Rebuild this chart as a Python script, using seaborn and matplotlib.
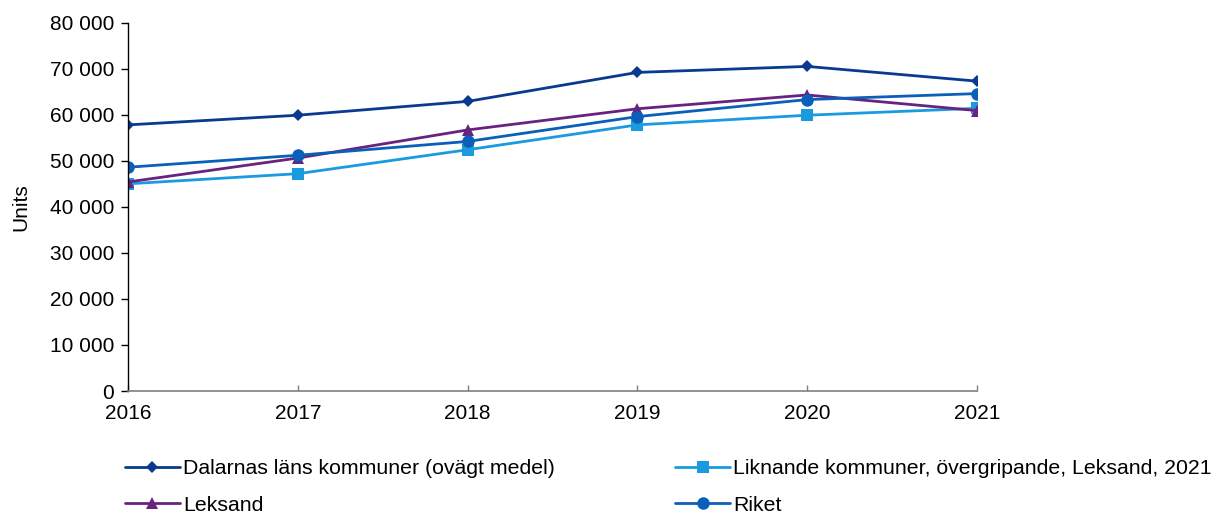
import matplotlib
matplotlib.use('Agg')
import matplotlib.pyplot as plt
import matplotlib.ticker as mticker
import seaborn as sns
import pandas as pd

years = [2016, 2017, 2018, 2019, 2020, 2021]
dalarnas = [57800, 59900, 62900, 69200, 70500, 67300]
liknande = [45000, 47200, 52400, 57800, 59900, 61400]
leksand = [45400, 50600, 56700, 61300, 64300, 60900]
riket = [48600, 51200, 54200, 59600, 63300, 64600]

names = ['Dalarnas läns kommuner (ovägt medel)',
         'Liknande kommuner, övergripande, Leksand, 2021',
         'Leksand',
         'Riket']
colors = ['#0a3a8f', '#1a9be0', '#6a2280', '#0a5fb8']
markers = ['D', 's', '^', 'o']
msizes = [6, 8, 8, 9]

sns.set_style('white')
plt.rcParams['font.family'] = ['Liberation Sans', 'DejaVu Sans']
plt.rcParams['text.color'] = 'black'
plt.rcParams['axes.labelcolor'] = 'black'
plt.rcParams['xtick.labelcolor'] = 'black'
plt.rcParams['ytick.labelcolor'] = 'black'

fig = plt.figure(figsize=(12.32, 5.13), dpi=100)
ax = fig.add_axes([0.1039, 0.2378, 0.6891, 0.718])

series = [dalarnas, liknande, leksand, riket]
for name, vals, c, m, ms in zip(names, series, colors, markers, msizes):
    df = pd.DataFrame({'year': years, 'value': vals})
    sns.lineplot(data=df, x='year', y='value', ax=ax, color=c, marker=m,
                 markersize=ms, markeredgewidth=0, linewidth=2, label=name)

ax.set_xlim(2016, 2021)
ax.set_ylim(0, 80000)
ax.set_xticks(years)
ax.set_yticks(range(0, 80001, 10000))
ax.yaxis.set_major_formatter(mticker.FuncFormatter(lambda v, p: f'{int(v):,}'.replace(',', ' ')))
ax.set_xlabel('')
ax.set_ylabel('Units', fontsize=15, labelpad=14)

for s in ['top', 'right']:
    ax.spines[s].set_visible(False)
ax.spines['left'].set_color('black')
ax.spines['left'].set_linewidth(1)
ax.spines['bottom'].set_color('#808080')
ax.spines['bottom'].set_linewidth(1.2)
ax.tick_params(axis='y', direction='out', length=5, width=1, color='black',
               labelsize=15, pad=5, left=True)
ax.tick_params(axis='x', direction='in', length=4, width=1, color='#808080',
               labelsize=15, pad=9, bottom=True)

handles, labels = ax.get_legend_handles_labels()
ax.get_legend().remove()
order = [0, 2, 1, 3]
fig.legend([handles[i] for i in order], [labels[i] for i in order],
           loc='upper left', bbox_to_anchor=(0.1013, 0.105), ncol=2,
           frameon=False, fontsize=15.3, handlelength=2.6, handletextpad=0.15,
           columnspacing=5.64, labelspacing=0.82, borderaxespad=0, borderpad=0)

fig.savefig('out.png', dpi=100)
